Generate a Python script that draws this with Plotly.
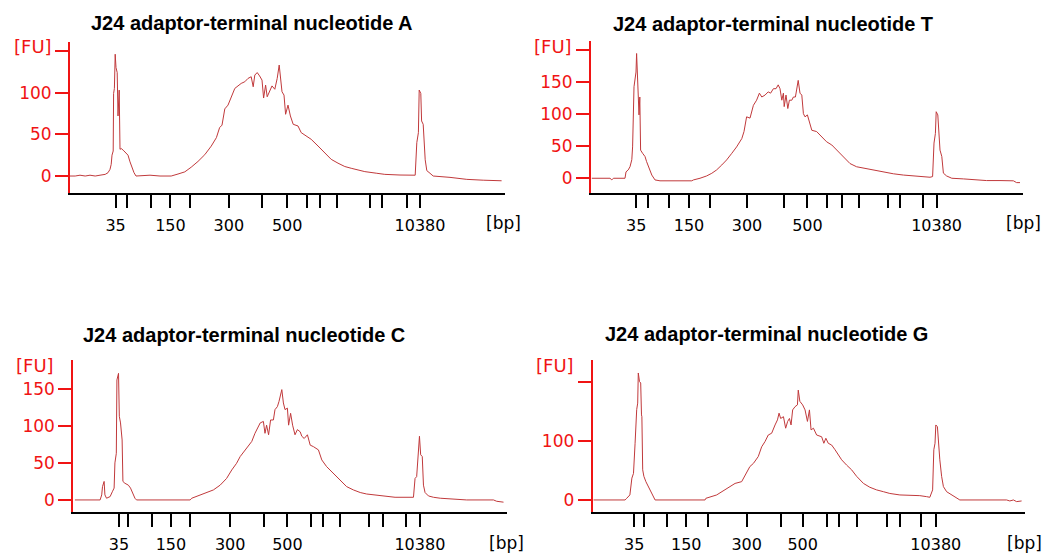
import plotly.graph_objects as go

W, H = 1045, 553

# Ladder (bp) and which ladder bands get a label
LADDER_BP = [35, 50, 100, 150, 200, 300, 400, 500, 600, 700, 1000, 2000, 3000, 7000, 10380]
LABELED_BP = [35, 150, 300, 500, 10380]

# Ladder band migration times (s) for each run
a_ladder_time = [43.4, 46.3, 52.3, 57.1, 61.9, 71.7, 80.0, 86.3, 91.3, 94.6, 98.8, 107.0, 110.1, 116.3, 119.5]
t_ladder_time = [43.3, 46.2, 51.5, 56.5, 61.8, 71.0, 80.3, 86.1, 90.9, 94.8, 99.0, 106.2, 109.3, 115.0, 118.4]
c_ladder_time = [43.4, 45.75, 51.6, 56.4, 61.25, 71.2, 79.75, 85.5, 91.3, 94.3, 98.7, 105.9, 109.5, 115.1, 118.6]
g_ladder_time = [42.4, 44.75, 50.6, 55.4, 60.75, 70.5, 79.0, 84.5, 90.5, 93.7, 98.0, 105.7, 108.75, 114.2, 117.8]

# Electropherogram traces: migration time (s) and fluorescence (FU)
a_time = [32.0, 33.3, 34.5, 35.8, 37.0, 38.3, 39.5, 40.8, 41.5, 42.0, 42.3, 42.5, 42.8, 42.9, 43.1, 43.3, 43.5,
          43.8, 44.0, 44.3, 44.5, 44.8, 45.3, 46.0, 46.5, 47.0, 47.5, 48.0, 48.5, 52.0, 54.5, 57.3, 59.0, 60.7,
          62.3, 64.0, 65.7, 67.3, 68.6, 69.4, 70.0, 70.7, 71.5, 72.3, 73.2, 74.0, 74.8, 75.7, 76.5, 77.3, 77.8,
          78.2, 78.8, 79.4, 80.0, 80.4, 80.9, 81.3, 81.9, 82.5, 83.2, 83.8, 84.3, 84.6, 85.0, 85.5, 85.9, 86.5,
          87.1, 87.8, 89.0, 89.8, 91.1, 92.3, 94.0, 95.7, 97.3, 99.0, 100.7, 102.3, 104.0, 105.7, 108.7, 110.7,
          114.5, 118.3, 118.7, 119.1, 119.3, 119.7, 119.9, 120.3, 120.8, 121.2, 122.0, 122.8, 127.0, 131.2,
          135.3, 139.9]
a_fu = [0, 0, 1, 0, 1, 0, 1, 2, 4, 8, 14, 25, 30, 99, 105, 146, 130,
        124, 72, 103, 32, 33, 31, 27, 25, 17, 10, 4, 0, 1, 0, 0, 2.4, 5,
        10.6, 17.5, 25.6, 35.8, 46, 58, 61, 80.5, 85, 95, 105, 108, 111, 113, 117, 119, 107,
        121, 124, 120, 115, 93.5, 109, 95, 101, 108, 104, 117, 133, 117, 101, 97, 74, 85,
        72, 62, 60, 52, 48, 44, 36, 28, 20, 15.4, 11.4, 9.3, 7.3, 5.3, 3.3, 2,
        1.2, 1, 40, 52, 103, 99, 66, 62, 19.5, 6.5, 3.3, 0, -1.6, -4,
        -5, -5.7]

t_time = [32.2, 36.75, 37.2, 37.6, 40.5, 40.75, 41.3, 41.75, 42.2, 42.4, 42.75, 43.0, 43.25, 43.4, 43.6, 43.8,
          44.0, 44.2, 44.4, 44.9, 45.5, 45.9, 46.6, 47.2, 48.0, 49.25, 57.2, 57.6, 59.25, 60.9, 62.2, 63.4,
          64.7, 65.9, 67.2, 68.4, 69.7, 70.25, 70.9, 71.75, 72.6, 73.4, 74.1, 74.7, 75.5, 76.3, 76.9, 77.6,
          78.25, 78.8, 79.25, 79.7, 80.1, 80.3, 80.75, 81.2, 81.6, 82.2, 82.6, 83.1, 83.4, 83.8, 84.25, 84.7,
          85.1, 85.5, 86.1, 86.6, 87.2, 88.4, 89.7, 90.9, 92.2, 93.4, 95.1, 96.75, 98.4, 100.1, 102.6, 105.1,
          107.6, 110.1, 112.6, 115.1, 116.75, 117.4, 117.75, 118.1, 118.3, 118.7, 118.9, 119.25, 119.7, 120.1,
          120.9, 122.2, 125.1, 127.6, 130.9, 134.25, 137.6, 138.4, 139.25]
t_fu = [0, 0, -2.6, 0, 0, 10, 13, 18, 29, 49, 143, 159, 166, 195, 153, 127,
        99, 127, 44, 39, 34, 26, 13, 5, -2.6, -4, -4, -2.6, 0, 3.6, 7.8, 13,
        20.8, 28.6, 39, 49, 62, 73, 96, 94, 114, 122, 133, 127, 130, 135, 133, 140,
        140, 146, 140, 122, 133, 112, 130, 109, 122, 122, 127, 127, 138, 153, 133, 130,
        101, 96, 99, 86, 75, 73, 65, 57, 52, 44, 34, 23, 18, 16, 12, 9,
        7, 5, 3.6, 2.6, 1.6, 2.6, 55, 70, 104, 99, 75, 44, 34, 8,
        3.6, 0, -1, -2.6, -3.6, -3.6, -4, -6.8, -6.8]

c_time = [32.4, 38.7, 39.1, 39.3, 39.7, 39.9, 40.3, 41.2, 41.75, 42.2, 42.4, 42.75, 42.9, 43.2, 43.3, 43.5,
          43.8, 44.2, 44.4, 44.9, 45.75, 46.3, 46.8, 47.4, 47.8, 61.2, 61.6, 63.7, 65.3, 67.0, 68.7, 70.3,
          71.6, 72.8, 73.7, 74.9, 75.75, 76.6, 77.4, 78.7, 79.5, 79.9, 80.3, 80.8, 81.3, 82.0, 82.4, 83.0,
          83.4, 83.7, 84.1, 84.5, 84.9, 85.5, 85.8, 86.3, 86.8, 87.4, 88.0, 88.7, 89.1, 89.7, 90.5, 91.2,
          92.0, 93.25, 94.1, 95.3, 97.0, 98.7, 100.3, 102.0, 103.7, 105.3, 107.8, 110.3, 112.4, 117.0, 117.4,
          117.8, 118.25, 118.5, 118.8, 119.2, 119.5, 119.9, 120.75, 122.0, 123.7, 126.6, 130.3, 137.0, 137.8,
          139.5]
c_fu = [0, 0, 6.8, 18, 25, 6.8, 2.3, 4.5, 11, 16, 50, 63, 162, 167, 171, 113,
        104, 81, 25, 22.5, 20, 16, 9, 2.3, 0, 0, 2.3, 6.8, 10, 13.5, 20, 29,
        40.5, 49.5, 58.6, 67.6, 74, 79, 90, 104, 106, 90, 101, 88, 108, 108, 122, 126,
        133, 142, 149, 131, 122, 124, 101, 117, 101, 88, 95, 92, 86, 83, 88, 74,
        72, 67.6, 54, 45, 36, 27, 18, 13.5, 10, 8, 6.8, 5.4, 3.6, 3.6, 29,
        31.5, 79, 86, 61, 58.6, 20, 10, 5.4, 3.6, 2.3, 0.9, 0, 0, -1.8,
        -3]

g_time = [32.2, 40.1, 40.5, 41.3, 41.8, 42.2, 42.6, 42.8, 43.0, 43.25, 43.4, 43.7, 44.0, 44.2, 44.3, 44.5,
          44.8, 45.3, 45.9, 46.5, 47.0, 47.6, 60.1, 60.3, 63.0, 64.25, 65.9, 67.6, 69.25, 70.1, 71.3, 72.2,
          73.4, 74.25, 75.1, 75.9, 76.75, 77.6, 78.2, 78.6, 79.0, 79.7, 80.25, 80.75, 81.2, 81.6, 82.0, 82.6,
          83.2, 83.4, 83.8, 84.5, 85.1, 85.7, 86.2, 86.6, 87.2, 88.0, 89.25, 89.8, 90.3, 90.9, 91.75, 92.6,
          93.4, 94.25, 95.5, 96.75, 98.0, 99.7, 101.3, 103.0, 104.7, 106.3, 108.8, 111.3, 113.8, 115.5, 116.3,
          117.0, 117.3, 117.6, 117.8, 118.2, 118.4, 118.8, 119.25, 119.7, 120.5, 121.75, 123.0, 123.8, 135.5,
          136.3, 137.2, 138.0, 139.25]
g_fu = [0, 0, 2.8, 8.5, 37, 45, 96, 147, 153, 164, 215, 200.6, 198, 144, 141, 51,
        40, 31, 22.6, 14, 5.6, 0, 0, 2.8, 8.5, 14, 20, 28, 31, 42, 56.5, 62,
        73.5, 90, 99, 110, 113, 127, 135.6, 147, 138, 141, 121.5, 133, 138, 127, 152.5, 158,
        161, 186, 167, 161, 152.5, 133, 152.5, 118.7, 121.5, 110, 107, 96, 104.5, 96, 93, 85,
        76, 68, 59, 51, 40, 28, 21.5, 17, 14, 11, 8.5, 8, 7.3, 5.6, 4.5,
        17, 85, 96, 127, 124, 102, 68, 40, 22.6, 14, 8.5, 2.8, 0, 0,
        -1.7, 0, -2.8, -1.7]

TITLES = ["J24 adaptor-terminal nucleotide A", "J24 adaptor-terminal nucleotide T",
          "J24 adaptor-terminal nucleotide C", "J24 adaptor-terminal nucleotide G"]

Y_TICKS = [[0, 50, 100, 150], [0, 50, 100, 150, 200], [0, 50, 100, 150], [0, 100, 200]]
Y_TICK_TEXT = [["0", "50", "100", ""], ["0", "50", "100", "150", ""], ["0", "50", "100", "150"], ["0", "100", ""]]

# ---- layout geometry (pixels) ----
panels = [
    dict(time=a_time, fu=a_fu, ladder=a_ladder_time, x0=70, x1=505, y0=41.7, y1=193.3,
         xr=[32, 140.75], yr=[-20.7, 161], title=(251.5, 23), fu_lab=(33, 46), bp_lab=(503, 223)),
    dict(time=t_time, fu=t_fu, ladder=t_ladder_time, x0=591, x1=1023, y0=40.7, y1=193.3,
         xr=[32, 140], yr=[-23.5, 215], title=(772.7, 24), fu_lab=(553, 46), bp_lab=(1023, 223)),
    dict(time=c_time, fu=c_fu, ladder=c_ladder_time, x0=73.3, x1=506.7, y0=360, y1=512.3,
         xr=[32, 140.3], yr=[-16.7, 189], title=(244, 335), fu_lab=(35, 365), bp_lab=(506, 543)),
    dict(time=g_time, fu=g_fu, ladder=g_ladder_time, x0=592.7, x1=1025, y0=360, y1=512.3,
         xr=[32, 140.1], yr=[-20.9, 237], title=(766, 334), fu_lab=(555, 365), bp_lab=(1024, 543)),
]

RED = "#f01414"
TRACE = "#c0393b"
FONT = "DejaVu Sans"

fig = go.Figure()
layout = dict(width=W, height=H, margin=dict(l=0, r=0, t=0, b=0),
              paper_bgcolor="white", plot_bgcolor="white", showlegend=False)
annotations = []

for i, p in enumerate(panels):
    n = "" if i == 0 else str(i + 1)
    fig.add_trace(go.Scatter(x=p["time"], y=p["fu"], mode="lines",
                             line=dict(color=TRACE, width=1),
                             xaxis="x" + n, yaxis="y" + n, hoverinfo="skip"))
    ticktext = [str(b) if b in LABELED_BP else "" for b in LADDER_BP]
    layout["xaxis" + n] = dict(
        domain=[p["x0"] / W, p["x1"] / W], range=p["xr"], anchor="y" + n,
        showgrid=False, zeroline=False, showline=True, linecolor="black", linewidth=2,
        ticks="outside", ticklen=13, tickwidth=2, tickcolor="black",
        tickmode="array", tickvals=p["ladder"], ticktext=ticktext,
        tickfont=dict(family=FONT, size=16, color="black"), ticklabelstandoff=3,
        fixedrange=True)
    layout["yaxis" + n] = dict(
        domain=[1 - p["y1"] / H, 1 - p["y0"] / H], range=p["yr"], anchor="x" + n,
        showgrid=False, zeroline=False, showline=True, linecolor=RED, linewidth=2,
        ticks="outside", ticklen=13, tickwidth=2, tickcolor=RED,
        tickmode="array", tickvals=Y_TICKS[i], ticktext=Y_TICK_TEXT[i],
        tickfont=dict(family=FONT, size=17, color=RED), fixedrange=True)
    annotations.append(dict(text="<b>" + TITLES[i] + "</b>", x=p["title"][0] / W, y=1 - p["title"][1] / H,
                            xref="paper", yref="paper", showarrow=False, xanchor="center", yanchor="middle",
                            font=dict(family="Liberation Sans", size=20, color="black")))
    annotations.append(dict(text="[FU]", x=p["fu_lab"][0] / W, y=1 - p["fu_lab"][1] / H,
                            xref="paper", yref="paper", showarrow=False, xanchor="center", yanchor="middle",
                            font=dict(family=FONT, size=18, color=RED)))
    annotations.append(dict(text="[bp]", x=p["bp_lab"][0] / W, y=1 - p["bp_lab"][1] / H,
                            xref="paper", yref="paper", showarrow=False, xanchor="center", yanchor="middle",
                            font=dict(family=FONT, size=17, color="black")))

layout["annotations"] = annotations
fig.update_layout(**layout)
fig.write_html("out.html")
